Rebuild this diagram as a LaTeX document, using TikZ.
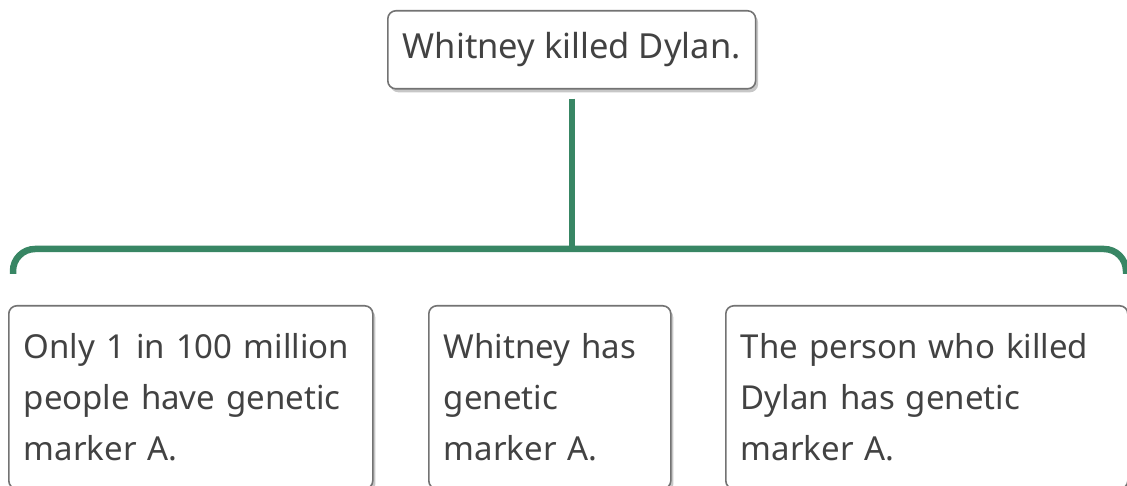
\documentclass[tikz,border=0pt]{standalone}
\usepackage{fontspec}
\setmainfont{Noto Sans}
\usetikzlibrary{shadows}
\definecolor{linkgreen}{RGB}{56,134,100}
\definecolor{boxline}{RGB}{115,115,115}
\definecolor{boxtext}{RGB}{66,66,66}
\tikzset{
  card/.style={draw=boxline, line width=1.6pt, rounded corners=8pt, fill=white,
    text=boxtext, anchor=north west, inner xsep=15pt, inner ysep=0pt,
    font=\fontsize{33}{51}\selectfont, align=left,
    drop shadow={shadow xshift=2.5pt, shadow yshift=-3.5pt, fill=black!40, opacity=0.55}},
  link/.style={draw=linkgreen, line width=6.5pt}
}
\begin{document}
\begin{tikzpicture}[x=1pt, y=-1pt]
  \useasboundingbox (0,0) rectangle (1127,486);
  % claim at the top
  \node[card, minimum width=364pt, minimum height=78pt, align=center,
        font=\fontsize{34.5}{51}\selectfont] (claim) at (387,10)
    {Whitney killed Dylan.};
  % three supporting premises
  \node[card, minimum width=364pt, minimum height=183pt, text width=334pt] (p1) at (8,305)
    {Only 1 in 100 million\\people have genetic\\marker A.};
  \node[card, minimum width=242pt, minimum height=183pt, text width=212pt] (p2) at (428,305)
    {Whitney has\\genetic\\marker A.};
  \node[card, minimum width=402pt, minimum height=183pt, text width=372pt] (p3) at (725,305)
    {The person who killed\\Dylan has genetic\\marker A.};
  % branching connector
  \coordinate (junction) at (572,249);
  \coordinate (busL) at (13,274);
  \coordinate (busR) at (1126,274);
  \draw[link] (claim.south -| junction) ++(0,9) -- (junction);
  \draw[link, rounded corners=22pt] (busL) |- (junction) -| (busR);
\end{tikzpicture}
\end{document}
